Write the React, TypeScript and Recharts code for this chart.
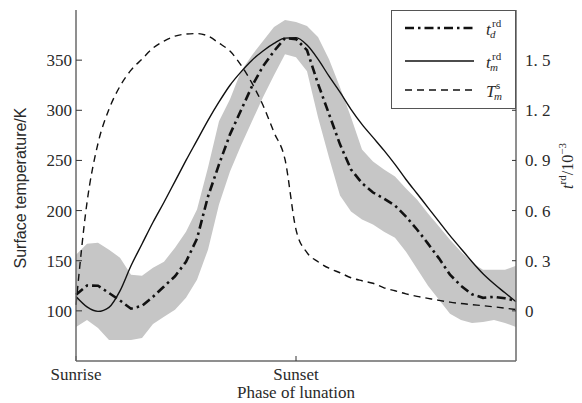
import { ComposedChart, Area, Line, XAxis, YAxis, Legend } from "recharts";

// phase of lunation, 0 = sunrise, 0.5 = sunset
const PHASE = [
  0, 0.025, 0.05, 0.075, 0.1, 0.125, 0.15, 0.175, 0.2, 0.225, 0.25, 0.275, 0.3, 0.325,
  0.35, 0.375, 0.4, 0.425, 0.45, 0.475, 0.5, 0.525, 0.55, 0.575, 0.6, 0.625, 0.65, 0.675,
  0.7, 0.725, 0.75, 0.775, 0.8, 0.825, 0.85, 0.875, 0.9, 0.925, 0.95, 0.975, 1,
];

// t_d^rd (10^-3), dash-dot
const T_D = [
  0.096, 0.152, 0.15, 0.107, 0.062, 0.013, 0.03, 0.084, 0.146, 0.207, 0.294, 0.432, 0.684,
  0.876, 1.056, 1.2, 1.344, 1.464, 1.554, 1.632, 1.626, 1.56, 1.359, 1.178, 0.996, 0.846,
  0.764, 0.708, 0.672, 0.63, 0.564, 0.487, 0.402, 0.314, 0.216, 0.15, 0.099, 0.078, 0.084,
  0.075, 0.06,
];

// t_m^rd (10^-3), solid
const T_M = [
  0.086, 0.024, -0.003, 0.021, 0.12, 0.27, 0.4, 0.53, 0.65, 0.775, 0.9, 1.02, 1.14, 1.25,
  1.35, 1.43, 1.5, 1.555, 1.6, 1.632, 1.635, 1.59, 1.506, 1.404, 1.308, 1.206, 1.116, 1.038,
  0.96, 0.876, 0.786, 0.702, 0.618, 0.534, 0.45, 0.372, 0.294, 0.222, 0.162, 0.108, 0.054,
];

// T_m^s surface temperature (K), dashed
const T_S = [
  106, 208, 267, 301, 324, 340, 351, 362, 369, 374, 376, 376.5, 374, 367, 359, 345, 327, 305,
  278, 251, 181, 158, 149, 142.5, 138, 133, 130, 127.5, 123, 120, 117, 114.5, 112.5, 110.5,
  108.7, 107.3, 106.2, 105.2, 104, 102.7, 101.3,
];

// grey band around t_d
const BAND_LO = [
  -0.096, -0.054, -0.102, -0.174, -0.174, -0.174, -0.162, -0.078, -0.036, 0.006, 0.078, 0.186,
  0.366, 0.636, 0.834, 0.99, 1.134, 1.278, 1.41, 1.536, 1.518, 1.434, 1.158, 0.918, 0.69,
  0.594, 0.546, 0.516, 0.474, 0.438, 0.354, 0.252, 0.15, 0.066, -0.018, -0.054, -0.072,
  -0.066, -0.054, -0.072, -0.096,
];
const BAND_HI = [
  0.336, 0.402, 0.408, 0.366, 0.318, 0.216, 0.21, 0.258, 0.294, 0.378, 0.474, 0.606, 0.858,
  1.134, 1.266, 1.434, 1.53, 1.614, 1.698, 1.74, 1.728, 1.704, 1.638, 1.506, 1.338, 1.158,
  0.966, 0.894, 0.846, 0.804, 0.732, 0.666, 0.582, 0.504, 0.426, 0.354, 0.288, 0.246, 0.246,
  0.246, 0.27,
];

const X_TICKS = [0, 0.5];
const X_LABELS = ["Sunrise", "Sunset"];
const LEFT_TICKS = [100, 150, 200, 250, 300, 350];
const RIGHT_TICKS = [0, 0.3, 0.6, 0.9, 1.2, 1.5];

const SERIF = "Liberation Serif";
const FRAME = "#6a6a6a";
const INK = "#111";
const TEXT = "#2a2a2a";

const DASH_DOT = "9 4 2.5 4";
const DASHED = "7 5";

const LEGEND_ITEMS = [
  { base: "t", sup: "rd", sub: "d", dash: DASH_DOT, width: 2.6, baseW: 6 },
  { base: "t", sup: "rd", sub: "m", dash: undefined, width: 1.4, baseW: 6 },
  { base: "T", sup: "s", sub: "m", dash: DASHED, width: 1.4, baseW: 10 },
];
const LEGEND_ROWS = [17, 50, 79];

const data = PHASE.map((p, i) => ({
  phase: p,
  td: T_D[i],
  tm: T_M[i],
  ts: T_S[i],
  band: [BAND_LO[i], BAND_HI[i]],
}));

function LegendBox() {
  return (
    <div
      style={{
        width: 125,
        height: 99,
        boxSizing: "border-box",
        border: "1px solid #555",
        background: "#fff",
      }}
    >
      <svg width={123} height={97} style={{ display: "block" }}>
        {LEGEND_ITEMS.map((item, i) => {
          const y = LEGEND_ROWS[i];
          return (
            <g key={i} fontFamily={SERIF} fill={TEXT}>
              <line
                x1={13}
                x2={82}
                y1={y}
                y2={y}
                stroke={INK}
                strokeWidth={item.width}
                strokeDasharray={item.dash}
              />
              <text x={94} y={y + 7} fontSize={17} fontStyle="italic">
                {item.base}
              </text>
              <text x={94 + item.baseW} y={y - 1} fontSize={11}>
                {item.sup}
              </text>
              <text x={94 + item.baseW - 2} y={y + 10} fontSize={11} fontStyle="italic">
                {item.sub}
              </text>
            </g>
          );
        })}
      </svg>
    </div>
  );
}

function LeftLabel() {
  return (
    <text
      x={22}
      y={188}
      transform="rotate(-90 22 188)"
      textAnchor="middle"
      dominantBaseline="middle"
      fontFamily="Liberation Sans"
      fontSize={16}
      fill={TEXT}
    >
      Surface temperature/K
    </text>
  );
}

function RightLabel() {
  return (
    <text
      x={569}
      y={166}
      transform="rotate(-90 569 166)"
      textAnchor="middle"
      dominantBaseline="middle"
      fontFamily={SERIF}
      fontSize={16}
      fill={TEXT}
    >
      <tspan fontStyle="italic">t</tspan>
      <tspan fontSize={11} dy={-6}>rd</tspan>
      <tspan dy={6}>/10</tspan>
      <tspan fontSize={11} dy={-6}>−3</tspan>
    </text>
  );
}

const tickStyle = { fill: TEXT, fontSize: 17, fontFamily: SERIF };

export default function App() {
  return (
    <div style={{ position: "absolute", left: 0, top: 0, background: "#fff" }}>
      <ComposedChart
        width={582}
        height={403}
        data={data}
        margin={{ top: 10, right: 0, bottom: 0, left: 0 }}
      >
        <XAxis
          dataKey="phase"
          type="number"
          domain={[0, 1]}
          ticks={X_TICKS}
          interval={0}
          tickFormatter={(v) => X_LABELS[X_TICKS.indexOf(v)]}
          height={42}
          tickSize={-5}
          tickMargin={12}
          axisLine={{ stroke: FRAME, strokeWidth: 1.5 }}
          tickLine={{ stroke: "#333" }}
          tick={{ fill: TEXT, fontSize: 17, fontFamily: SERIF }}
          label={{
            value: "Phase of lunation",
            position: "insideBottom",
            offset: 5,
            fill: TEXT,
            fontSize: 17,
            fontFamily: SERIF,
          }}
        />
        <XAxis
          xAxisId="top"
          orientation="top"
          type="number"
          domain={[0, 1]}
          height={0}
          tick={false}
          tickLine={false}
          axisLine={{ stroke: FRAME, strokeWidth: 1.5 }}
        />
        <YAxis
          yAxisId="left"
          domain={[50, 400]}
          ticks={LEFT_TICKS}
          width={76}
          tickSize={-6}
          tickMargin={10}
          axisLine={{ stroke: FRAME, strokeWidth: 1.5 }}
          tickLine={{ stroke: "#333" }}
          tick={tickStyle}
          label={<LeftLabel />}
        />
        <YAxis
          yAxisId="right"
          orientation="right"
          domain={[-0.3, 1.8]}
          ticks={RIGHT_TICKS}
          width={66}
          tickSize={-4}
          tickMargin={13}
          tickFormatter={(v) => (v === 0 ? "0" : v.toFixed(1).replace(".", ". "))}
          axisLine={{ stroke: FRAME, strokeWidth: 1.5 }}
          tickLine={{ stroke: "#333" }}
          tick={tickStyle}
          label={<RightLabel />}
        />
        <Area
          yAxisId="right"
          dataKey="band"
          type="linear"
          stroke="none"
          fill="#c6c6c6"
          fillOpacity={1}
          isAnimationActive={false}
        />
        <Line
          yAxisId="left"
          dataKey="ts"
          type="monotone"
          stroke={INK}
          strokeWidth={1.4}
          strokeDasharray={DASHED}
          dot={false}
          isAnimationActive={false}
        />
        <Line
          yAxisId="right"
          dataKey="tm"
          type="monotone"
          stroke={INK}
          strokeWidth={1.4}
          dot={false}
          isAnimationActive={false}
        />
        <Line
          yAxisId="right"
          dataKey="td"
          type="linear"
          stroke={INK}
          strokeWidth={2.6}
          strokeDasharray={DASH_DOT}
          dot={false}
          isAnimationActive={false}
        />
        <Legend
          layout="vertical"
          align="center"
          verticalAlign="middle"
          content={() => <LegendBox />}
          wrapperStyle={{ position: "absolute", left: 391, top: 10, width: 125, height: 99 }}
        />
      </ComposedChart>
    </div>
  );
}
